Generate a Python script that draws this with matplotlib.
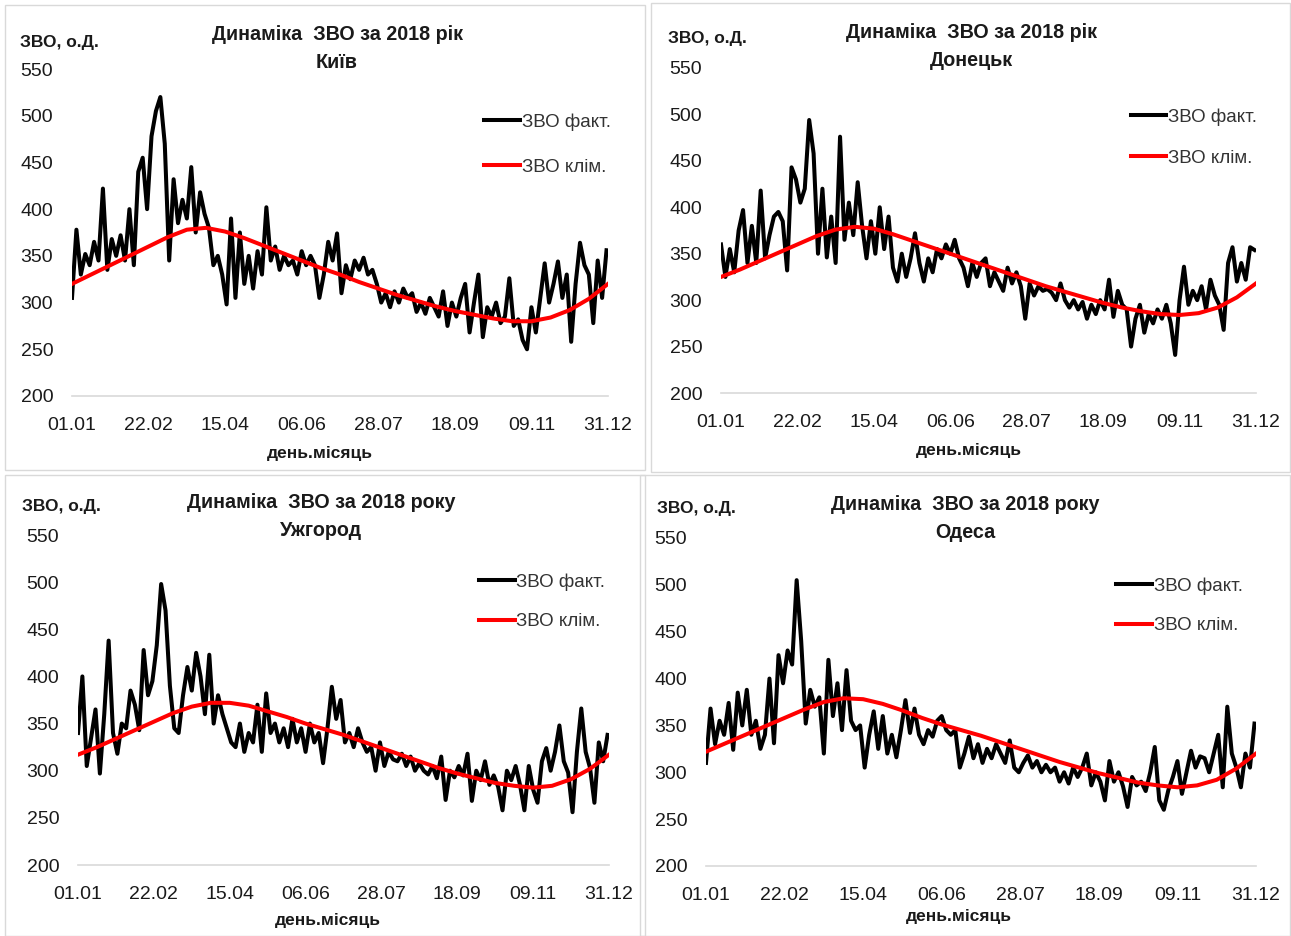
import matplotlib.pyplot as plt
import numpy as np
from matplotlib.patches import Rectangle

plt.rcParams['font.family'] = ['Liberation Sans', 'DejaVu Sans']

W, H = 1291, 936

tick_labels = ["01.01", "22.02", "15.04", "06.06", "28.07", "18.09", "09.11", "31.12"]
tick_days = np.arange(0, 365, 52)
obs_days = np.arange(0, 364, 3)
clim_days = np.arange(0, 365, 13)

kyiv_fact = [305, 378, 330, 352, 340, 365, 345, 422, 335, 368, 350, 372, 345, 400, 340, 440,
             455, 400, 478, 505, 520, 470, 345, 432, 385, 410, 390, 445, 375, 418, 395, 380,
             340, 350, 330, 298, 390, 305, 375, 320, 350, 315, 355, 330, 402, 345, 360, 335,
             350, 340, 345, 330, 355, 340, 350, 340, 305, 330, 365, 345, 374, 310, 340, 325,
             345, 335, 348, 330, 335, 320, 300, 310, 295, 312, 300, 315, 305, 310, 290, 300,
             288, 305, 295, 285, 312, 275, 300, 285, 305, 320, 268, 300, 330, 263, 295, 285,
             300, 278, 285, 326, 275, 282, 260, 250, 295, 268, 305, 342, 300, 320, 344, 305,
             330, 258, 320, 364, 340, 330, 278, 345, 305, 356]
kyiv_clim = [320, 330, 340, 350, 360, 370, 378, 380, 376, 369, 361, 353, 345, 337, 330, 322,
             315, 308, 302, 296, 291, 287, 283, 280, 280, 284, 292, 304, 320]

donetsk_fact = [360, 325, 355, 330, 375, 397, 340, 380, 340, 418, 345, 370, 390, 395, 385, 332,
                443, 430, 405, 420, 494, 458, 350, 420, 346, 390, 340, 476, 365, 405, 370, 427,
                380, 345, 385, 350, 400, 355, 390, 335, 320, 350, 325, 345, 372, 340, 320, 345,
                330, 355, 345, 360, 350, 365, 345, 335, 315, 340, 325, 340, 345, 315, 330, 320,
                310, 335, 318, 330, 315, 280, 318, 305, 315, 310, 312, 308, 300, 318, 300, 292,
                300, 290, 298, 280, 295, 285, 300, 290, 322, 282, 310, 295, 290, 250, 280, 295,
                265, 285, 275, 290, 280, 295, 275, 241, 300, 336, 295, 310, 300, 315, 290, 322,
                305, 295, 268, 340, 357, 320, 340, 322, 357, 354]
donetsk_clim = [325, 333, 342, 351, 360, 369, 376, 379, 377, 371, 364, 357, 350, 343, 336, 329,
                322, 315, 309, 303, 297, 292, 288, 285, 284, 286, 292, 303, 318]

uzh_fact = [340, 400, 305, 335, 365, 297, 360, 438, 340, 318, 350, 345, 385, 370, 343, 428,
            380, 395, 433, 498, 470, 390, 345, 340, 380, 410, 385, 425, 400, 360, 423, 350,
            380, 360, 345, 330, 325, 350, 320, 340, 330, 370, 320, 382, 340, 350, 330, 345,
            325, 355, 330, 345, 320, 350, 330, 340, 308, 345, 389, 355, 375, 330, 340, 325,
            345, 330, 320, 325, 300, 330, 305, 320, 312, 310, 318, 305, 315, 300, 308, 300,
            296, 305, 292, 315, 269, 300, 293, 305, 295, 318, 268, 300, 290, 310, 285, 295,
            283, 258, 300, 290, 305, 285, 258, 305, 280, 266, 310, 324, 300, 320, 348, 310,
            298, 256, 320, 366, 320, 303, 266, 330, 310, 338]
uzh_clim = [317, 325, 334, 343, 352, 361, 368, 372, 372, 369, 363, 357, 350, 344, 338, 331,
            324, 317, 310, 303, 297, 292, 287, 284, 282, 284, 291, 302, 317]

odesa_fact = [310, 368, 330, 355, 340, 374, 324, 385, 350, 388, 340, 355, 325, 340, 400, 331,
              425, 395, 430, 415, 505, 440, 352, 388, 370, 380, 320, 420, 360, 395, 345, 409,
              355, 345, 350, 305, 340, 365, 325, 360, 320, 340, 316, 345, 377, 342, 368, 340,
              330, 345, 338, 355, 360, 345, 340, 345, 305, 320, 338, 315, 330, 310, 325, 315,
              330, 320, 310, 334, 305, 300, 310, 318, 305, 312, 300, 308, 300, 305, 290, 300,
              288, 305, 295, 305, 320, 286, 300, 290, 270, 312, 290, 300, 285, 263, 295, 286,
              290, 280, 300, 327, 270, 260, 281, 295, 312, 277, 300, 323, 305, 317, 315, 300,
              320, 340, 284, 370, 320, 305, 284, 320, 305, 352]
odesa_clim = [322, 331, 340, 349, 358, 367, 375, 379, 378, 373, 366, 358, 351, 345, 339, 332,
              325, 318, 311, 305, 299, 294, 289, 286, 284, 286, 292, 304, 320]

panels = [
    dict(title="Динаміка  ЗВО за 2018 рік", city="Київ", fact=kyiv_fact, clim=kyiv_clim,
         ax=(72, 608, 69, 396), box=(5, 5, 645, 470), title_xy=(337, 34, 62),
         ylab_xy=(20, 42), xlab_xy=(320, 453), leg=(0.755, 0.888), lsp=1.5),
    dict(title="Динаміка  ЗВО за 2018 рік", city="Донецьк", fact=donetsk_fact, clim=donetsk_clim,
         ax=(721, 1256, 68, 393), box=(651, 3, 1290, 472), title_xy=(971, 32, 60),
         ylab_xy=(668, 39), xlab_xy=(969, 450), leg=(0.752, 0.9), lsp=1.3),
    dict(title="Динаміка  ЗВО за 2018 року", city="Ужгород", fact=uzh_fact, clim=uzh_clim,
         ax=(78, 609, 535, 865), box=(5, 475, 645, 936), title_xy=(321, 502, 530),
         ylab_xy=(22, 507), xlab_xy=(328, 920), leg=(0.741, 0.907), lsp=1.2),
    dict(title="Динаміка  ЗВО за 2018 року", city="Одеса", fact=odesa_fact, clim=odesa_clim,
         ax=(706, 1256, 538, 866), box=(640, 475, 1290, 936), title_xy=(965, 504, 532),
         ylab_xy=(657, 509), xlab_xy=(959, 917), leg=(0.732, 0.903), lsp=1.2),
]

fig = plt.figure(figsize=(W / 100, H / 100), dpi=100)

for p in panels:
    bx0, by0, bx1, by1 = p["box"]
    fig.patches.append(Rectangle((bx0 / W, 1 - by1 / H), (bx1 - bx0) / W, (by1 - by0) / H,
                                 transform=fig.transFigure, fill=False,
                                 edgecolor="#d9d9d9", linewidth=1.0))

    x0, x1, yt, yb = p["ax"]
    ax = fig.add_axes([x0 / W, 1 - yb / H, (x1 - x0) / W, (yb - yt) / H])
    l1, = ax.plot(obs_days, p["fact"], color="black", linewidth=2.9, label="ЗВО факт.")
    l2, = ax.plot(clim_days, p["clim"], color="#ff0000", linewidth=2.9, label="ЗВО клім.")
    ax.set_xlim(0, 364)
    ax.set_ylim(200, 550)
    ax.set_xticks(tick_days)
    ax.set_xticklabels(tick_labels)
    ax.set_yticks(np.arange(200, 551, 50))
    ax.tick_params(axis="both", length=0, labelsize=14, colors="#1a1a1a")
    ax.tick_params(axis="y", pad=13.5)
    ax.tick_params(axis="x", pad=15)
    for s in ["top", "right", "left"]:
        ax.spines[s].set_visible(False)
    ax.spines["bottom"].set_color("#d9d9d9")
    ax.spines["bottom"].set_linewidth(1.2)
    ax.legend(handles=[l1, l2], loc="upper left", bbox_to_anchor=p["leg"], frameon=False,
              fontsize=13.5, handlelength=1.9, handletextpad=0.1, labelspacing=p["lsp"],
              borderaxespad=0, labelcolor="#333333")

    tx, ty1, ty2 = p["title_xy"]
    fig.text(tx / W, 1 - ty1 / H, p["title"], ha="center", va="center",
             fontsize=14.2, fontweight="bold", color="#1a1a1a")
    fig.text(tx / W, 1 - ty2 / H, p["city"], ha="center", va="center",
             fontsize=14.2, fontweight="bold", color="#1a1a1a")
    lx, ly = p["ylab_xy"]
    fig.text(lx / W, 1 - ly / H, "ЗВО, о.Д.", ha="left", va="center",
             fontsize=12.5, fontweight="bold", color="#1a1a1a")
    xx, xy = p["xlab_xy"]
    fig.text(xx / W, 1 - xy / H, "день.місяць", ha="center", va="center",
             fontsize=12.5, fontweight="bold", color="#1a1a1a")

fig.savefig("out.png", dpi=100)
